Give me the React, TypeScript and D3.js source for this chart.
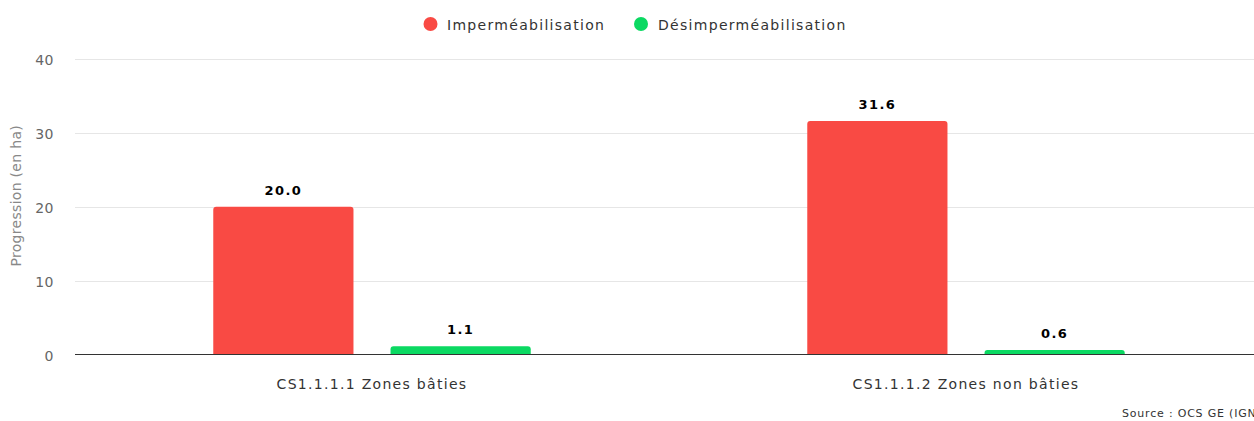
import React from "react";
import * as d3 from "d3";

const categories = ["CS1.1.1.1 Zones bâties", "CS1.1.1.2 Zones non bâties"];
const seriesNames = ["Imperméabilisation", "Désimperméabilisation"];
const impermeabilisation = [20.0, 31.6];
const desimpermeabilisation = [1.1, 0.6];
const yTicks = [0, 10, 20, 30, 40];
const colors = ["#f94a44", "#0bd962"];

const W = 1254;
const H = 421;
const FONT = "DejaVu Sans, sans-serif";

function topRounded(x: number, y: number, w: number, h: number, r: number) {
  const rr = Math.min(r, h, w / 2);
  return `M${x},${y + h}V${y + rr}Q${x},${y} ${x + rr},${y}H${x + w - rr}Q${x + w},${y} ${x + w},${y + rr}V${y + h}Z`;
}

export default function App() {
  const left = 75;
  const right = 1263;
  const top = 59;
  const bottom = 354.5;
  const x = d3.scaleBand<string>().domain(categories).range([left, right]);
  const inner = d3
    .scaleBand<string>()
    .domain(seriesNames)
    .range([0, x.bandwidth()])
    .paddingInner(0.209)
    .paddingOuter(0.78);
  const y = d3.scaleLinear().domain([0, 40]).range([bottom, top]);
  const series = [impermeabilisation, desimpermeabilisation];

  return (
    <svg width={W} height={H} style={{ display: "block", position: "absolute", left: 0, top: 0 }} fontFamily={FONT}>
      <rect width={W} height={H} fill="#fff" />
      {yTicks.map((t) => (
        <g key={t}>
          {t !== 0 && <line x1={left} x2={right} y1={Math.round(y(t)) + 0.5} y2={Math.round(y(t)) + 0.5} stroke="#e6e6e6" />}
          <text x={54} y={y(t) + 6} textAnchor="end" fontSize={14} letterSpacing={0.5} fill="#666">{t}</text>
        </g>
      ))}
      <text transform={`translate(21,${(top + bottom) / 2 - 11}) rotate(-90)`} textAnchor="middle" fontSize={14} letterSpacing={0.3} fill="#888">Progression (en ha)</text>
      {categories.map((c, ci) =>
        series.map((s, si) => {
          const bx = (x(c) as number) + (inner(seriesNames[si]) as number);
          const bw = inner.bandwidth();
          const by = y(s[ci]);
          return (
            <g key={`${ci}-${si}`}>
              <path d={topRounded(bx, by, bw, bottom - by, 3)} fill={colors[si]} />
              <text x={bx + bw / 2} y={by - 12} textAnchor="middle" fontSize={13} letterSpacing={1.4} fontWeight="bold" fill="#000" stroke="#fff" strokeWidth={2} paintOrder="stroke">{s[ci].toFixed(1)}</text>
            </g>
          );
        })
      )}
      <line x1={left} x2={right} y1={bottom} y2={bottom} stroke="#333" strokeWidth={1} />
      {categories.map((c) => (
        <text key={c} x={(x(c) as number) + x.bandwidth() / 2} y={389} textAnchor="middle" fontSize={14} letterSpacing={1.3} fill="#333">{c}</text>
      ))}
      <g>
        <circle cx={430.5} cy={24} r={7} fill={colors[0]} />
        <text x={447} y={29.5} fontSize={14} letterSpacing={1.3} fill="#333">{seriesNames[0]}</text>
        <circle cx={641} cy={24} r={7} fill={colors[1]} />
        <text x={658} y={29.5} fontSize={14} letterSpacing={1.3} fill="#333">{seriesNames[1]}</text>
      </g>
      <text x={1122} y={417} fontSize={11} letterSpacing={0.8} fill="#333">Source : OCS GE (IGN)</text>
    </svg>
  );
}
